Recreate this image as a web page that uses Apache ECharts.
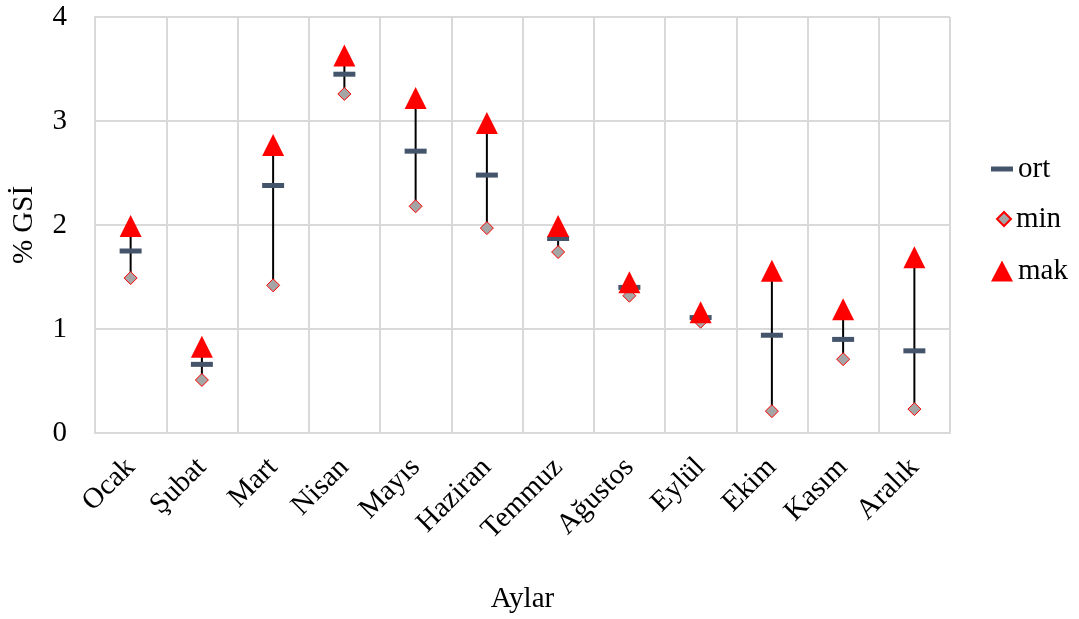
<!DOCTYPE html>
<html><head><meta charset="utf-8">
<script src="https://cdn.jsdelivr.net/npm/echarts@6/dist/echarts.min.js"></script>
<style>html,body{margin:0;padding:0;background:#fff}#c{width:1079px;height:619px}</style>
</head><body><div id="c"></div>
<script>
const months = ['Ocak','Şubat','Mart','Nisan','Mayıs','Haziran','Temmuz','Ağustos','Eylül','Ekim','Kasım','Aralık'];
const ort = [1.75, 0.66, 2.38, 3.45, 2.71, 2.48, 1.87, 1.40, 1.11, 0.94, 0.90, 0.79];
const minV = [1.49, 0.51, 1.42, 3.26, 2.18, 1.97, 1.74, 1.32, 1.07, 0.21, 0.71, 0.23];
const mak = [1.99, 0.83, 2.77, 3.63, 3.22, 2.98, 1.99, 1.45, 1.16, 1.56, 1.19, 1.69];
const yTicks = [0, 1, 2, 3, 4];

const FONT = '"Liberation Serif", "Times New Roman", serif';
const FS = 29;
const legText = {fontFamily: FONT, fontSize: FS, color: '#000', lineHeight: 30};
const chart = echarts.init(document.getElementById('c'));
chart.setOption({
  backgroundColor: '#fff',
  animation: false,
  textStyle: {fontFamily: FONT, color: '#000'},
  grid: {left: 95, right: 129, top: 17, bottom: 185, containLabel: false},
  legend: [
    {orient: 'vertical', left: 991, top: 154, padding: 0, itemWidth: 22, itemHeight: 5,
      textStyle: legText, data: [{name: 'ort', icon: 'rect'}]},
    {orient: 'vertical', left: 996, top: 204, padding: 0, itemWidth: 14, itemHeight: 14,
      textStyle: legText, data: [{name: 'min', icon: 'diamond'}]},
    {orient: 'vertical', left: 991, top: 256, padding: 0, itemWidth: 22, itemHeight: 21,
      textStyle: legText, data: [{name: 'mak', icon: 'triangle'}]}
  ],
  xAxis: {
    type: 'category', data: months, boundaryGap: true,
    name: 'Aylar', nameLocation: 'middle', nameGap: 152,
    nameTextStyle: {fontFamily: FONT, fontSize: FS, color: '#000'},
    axisLine: {show: true, lineStyle: {color: '#d9d9d9', width: 2}},
    axisTick: {show: false},
    splitLine: {show: true, lineStyle: {color: '#d9d9d9', width: 2}},
    axisLabel: {rotate: 45, fontFamily: FONT, fontSize: FS, color: '#000', margin: 30, interval: 0}
  },
  yAxis: {
    type: 'value', min: 0, max: 4, interval: 1,
    name: '% GSİ', nameLocation: 'middle', nameGap: 56, nameRotate: 90,
    nameTextStyle: {fontFamily: FONT, fontSize: FS, color: '#000'},
    axisLine: {show: true, lineStyle: {color: '#d9d9d9', width: 2}},
    axisTick: {show: false},
    splitLine: {show: true, lineStyle: {color: '#d9d9d9', width: 2}},
    axisLabel: {fontFamily: FONT, fontSize: FS, color: '#000', margin: 28,
      formatter: v => yTicks.includes(v) ? String(v) : ''}
  },
  series: [
    {
      type: 'custom', name: 'hl', silent: true, z: 1,
      data: months.map((m, i) => [i, minV[i], mak[i]]),
      renderItem: function (params, api) {
        const p1 = api.coord([api.value(0), api.value(1)]);
        const p2 = api.coord([api.value(0), api.value(2)]);
        return {type: 'line', shape: {x1: p1[0], y1: p1[1], x2: p2[0], y2: p2[1]},
          style: {stroke: '#000', lineWidth: 2}};
      }
    },
    {type: 'scatter', name: 'ort', data: ort, symbol: 'rect', symbolSize: [22, 5], z: 3,
      itemStyle: {color: '#44546a', opacity: 1}},
    {type: 'scatter', name: 'min', data: minV, symbol: 'diamond', symbolSize: 13, z: 4,
      itemStyle: {color: '#a5a5a5', borderColor: '#ff0000', borderWidth: 1, opacity: 1}},
    {type: 'scatter', name: 'mak', data: mak, symbol: 'triangle', symbolSize: [22, 22], z: 5,
      itemStyle: {color: '#ff0000', opacity: 1}}
  ]
});
</script></body></html>
